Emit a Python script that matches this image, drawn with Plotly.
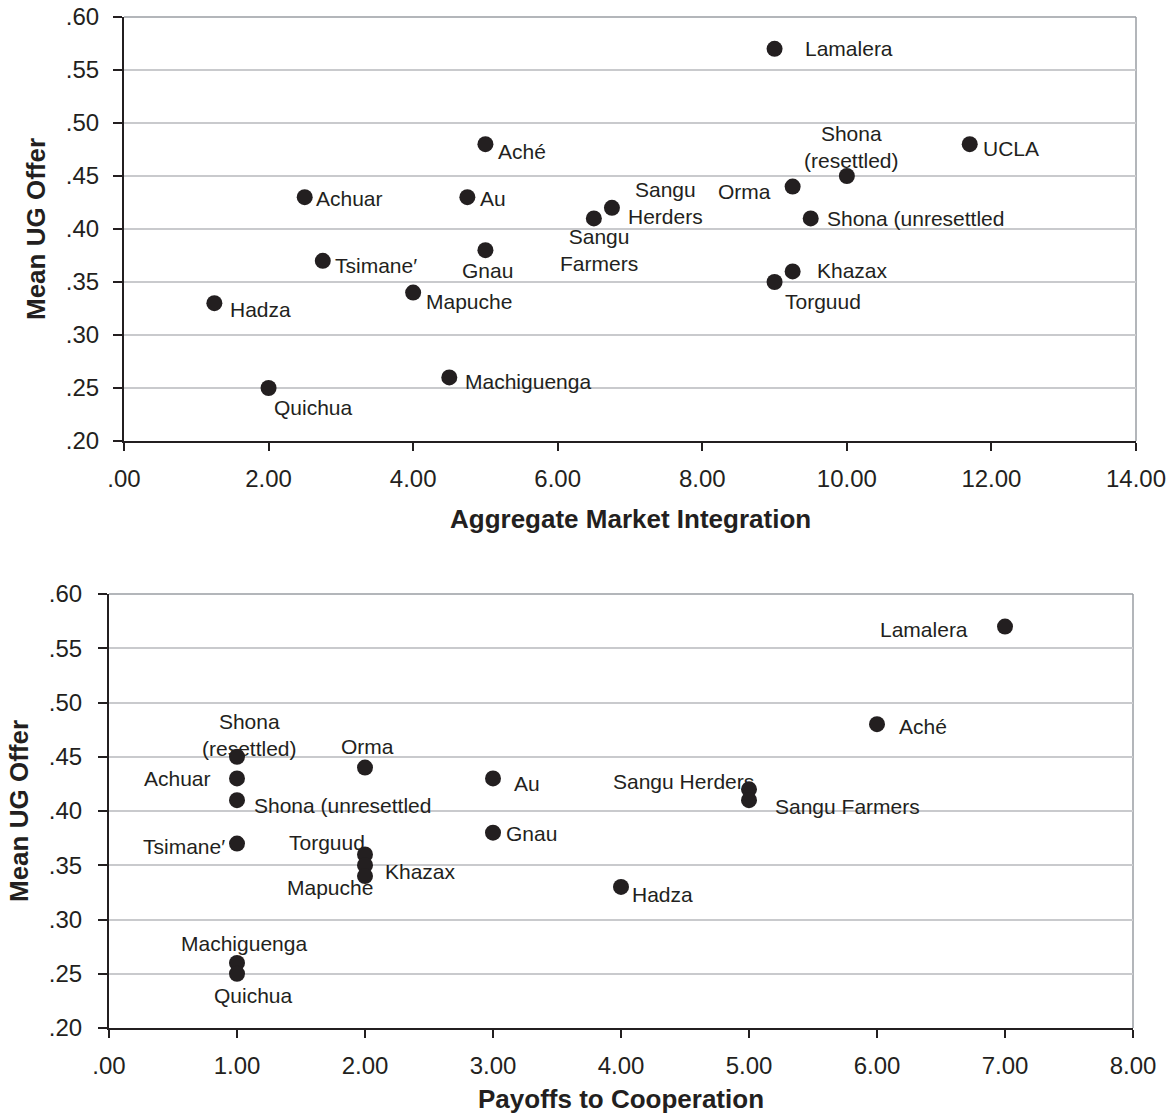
import plotly.graph_objects as go

# ---------------- data ----------------
groups_top = ["Lamalera", "Aché", "UCLA", "Shona<br>(resettled)", "Orma", "Achuar", "Au",
              "Sangu<br>Herders", "Sangu<br>Farmers", "Shona (unresettled", "Gnau", "Tsimane′",
              "Khazax", "Torguud", "Mapuche", "Hadza", "Machiguenga", "Quichua"]
market_integration = [9.0, 5.0, 11.7, 10.0, 9.25, 2.5, 4.75,
                      6.75, 6.5, 9.5, 5.0, 2.75,
                      9.25, 9.0, 4.0, 1.25, 4.5, 2.0]
offer_top = [0.57, 0.48, 0.48, 0.45, 0.44, 0.43, 0.43,
             0.42, 0.41, 0.41, 0.38, 0.37,
             0.36, 0.35, 0.34, 0.33, 0.26, 0.25]

groups_bottom = ["Lamalera", "Aché", "Shona<br>(resettled)", "Orma", "Achuar", "Au",
                 "Sangu Herders", "Sangu Farmers", "Shona (unresettled", "Gnau", "Tsimane′",
                 "Khazax", "Torguud", "Mapuche", "Hadza", "Machiguenga", "Quichua"]
payoffs_coop = [7, 6, 1, 2, 1, 3,
                5, 5, 1, 3, 1,
                2, 2, 2, 4, 1, 1]
offer_bottom = [0.57, 0.48, 0.45, 0.44, 0.43, 0.43,
                0.42, 0.41, 0.41, 0.38, 0.37,
                0.36, 0.35, 0.34, 0.33, 0.26, 0.25]

y_tickvals = [0.20, 0.25, 0.30, 0.35, 0.40, 0.45, 0.50, 0.55, 0.60]
y_ticktext = [".20", ".25", ".30", ".35", ".40", ".45", ".50", ".55", ".60"]
x_top_tickvals = [0, 2, 4, 6, 8, 10, 12, 14]
x_top_ticktext = [".00", "2.00", "4.00", "6.00", "8.00", "10.00", "12.00", "14.00"]
x_bot_tickvals = [0, 1, 2, 3, 4, 5, 6, 7, 8]
x_bot_ticktext = [".00", "1.00", "2.00", "3.00", "4.00", "5.00", "6.00", "7.00", "8.00"]

title_top_x = "Aggregate Market Integration"
title_bot_x = "Payoffs to Cooperation"
title_y = "Mean UG Offer"

# ---------------- label placement (style/position, not data) ----------------
# (xanchor, xshift, yshift)
place_top = {
    "Lamalera": ("left", 28, 0),
    "Aché": ("left", 11, -7),
    "UCLA": ("left", 11, -4),
    "Shona<br>(resettled)": ("center", 5, 29),
    "Orma": ("right", -20, -5),
    "Achuar": ("left", 9, -1),
    "Au": ("left", 11, -1),
    "Sangu<br>Herders": ("left", 14, 5),
    "Sangu<br>Farmers": ("center", 5, -32),
    "Shona (unresettled": ("left", 14, 0),
    "Gnau": ("center", 2, -20),
    "Tsimane′": ("left", 10, -5),
    "Khazax": ("left", 22, 1),
    "Torguud": ("left", 8, -20),
    "Mapuche": ("left", 11, -9),
    "Hadza": ("left", 14, -6),
    "Machiguenga": ("left", 14, -4),
    "Quichua": ("left", 3, -20),
}
place_bot = {
    "Lamalera": ("right", -35, -3),
    "Aché": ("left", 20, -2),
    "Shona<br>(resettled)": ("center", 12, 22),
    "Orma": ("center", 2, 21),
    "Achuar": ("right", -24, 0),
    "Au": ("left", 19, -5),
    "Sangu Herders": ("right", 7, 8),
    "Sangu Farmers": ("left", 24, -6),
    "Shona (unresettled": ("left", 15, -5),
    "Gnau": ("left", 11, -1),
    "Tsimane′": ("right", -10, -3),
    "Khazax": ("left", 18, -17),
    "Torguud": ("right", 2, 23),
    "Mapuche": ("right", 10, -11),
    "Hadza": ("left", 9, -8),
    "Machiguenga": ("center", 7, 19),
    "Quichua": ("center", 16, -22),
}

W, H = 1172, 1120
INK = "#231f20"
GRID = "#c9cacd"
BORDER = "#9a9ea3"
FONT = "Liberation Sans, Arial, sans-serif"

def px_x(p):
    return p / W

def px_y(p):
    return 1 - p / H

fig = go.Figure()

fig.add_trace(go.Scatter(
    x=market_integration, y=offer_top, mode="markers",
    marker=dict(size=16, color=INK), xaxis="x", yaxis="y",
    showlegend=False, hoverinfo="skip"))
fig.add_trace(go.Scatter(
    x=payoffs_coop, y=offer_bottom, mode="markers",
    marker=dict(size=16, color=INK), xaxis="x2", yaxis="y2",
    showlegend=False, hoverinfo="skip"))

annotations = []
for name, xv, yv in zip(groups_top, market_integration, offer_top):
    xa, xs, ys = place_top[name]
    annotations.append(dict(x=xv, y=yv, xref="x", yref="y", text=name,
                            showarrow=False, xanchor=xa, yanchor="middle",
                            xshift=xs, yshift=ys, align="center",
                            font=dict(size=21, color=INK, family=FONT)))
for name, xv, yv in zip(groups_bottom, payoffs_coop, offer_bottom):
    xa, xs, ys = place_bot[name]
    annotations.append(dict(x=xv, y=yv, xref="x2", yref="y2", text=name,
                            showarrow=False, xanchor=xa, yanchor="middle",
                            xshift=xs, yshift=ys, align="center",
                            font=dict(size=21, color=INK, family=FONT)))

title_font = dict(size=26, color=INK, family=FONT)
annotations += [
    dict(x=px_x(630), y=px_y(519), xref="paper", yref="paper", text="<b>%s</b>" % title_top_x,
         showarrow=False, xanchor="center", yanchor="middle", font=title_font),
    dict(x=px_x(621), y=px_y(1099), xref="paper", yref="paper", text="<b>%s</b>" % title_bot_x,
         showarrow=False, xanchor="center", yanchor="middle", font=title_font),
    dict(x=px_x(36), y=px_y(229), xref="paper", yref="paper", text="<b>%s</b>" % title_y,
         showarrow=False, xanchor="center", yanchor="middle", textangle=-90, font=title_font),
    dict(x=px_x(19), y=px_y(811), xref="paper", yref="paper", text="<b>%s</b>" % title_y,
         showarrow=False, xanchor="center", yanchor="middle", textangle=-90, font=title_font),
]

tick_font = dict(size=24, color=INK, family=FONT)
common_x = dict(showgrid=False, zeroline=False, showline=True, linecolor=INK, linewidth=2,
                ticks="outside", ticklen=8, tickwidth=1.5, tickcolor=INK, automargin=False,
                tickfont=tick_font, ticklabelstandoff=7, ticklabeloverflow="allow",
                fixedrange=True)
common_y = dict(showgrid=True, gridcolor=GRID, gridwidth=1.5, zeroline=False, showline=True,
                linecolor=INK, linewidth=2, ticks="outside", ticklen=9, tickwidth=1.5,
                tickcolor=INK, tickfont=tick_font, fixedrange=True, ticklabeloverflow="allow",
                automargin=False,
                range=[0.2, 0.6], tickmode="array", tickvals=y_tickvals, ticktext=y_ticktext)

fig.update_layout(
    width=W, height=H,
    margin=dict(l=0, r=0, t=0, b=0, pad=0),
    paper_bgcolor="white", plot_bgcolor="white",
    font=dict(family=FONT, color=INK),
    xaxis=dict(common_x, domain=[px_x(124), px_x(1136)], range=[0, 14], anchor="y",
               tickmode="array", tickvals=x_top_tickvals, ticktext=x_top_ticktext),
    yaxis=dict(common_y, domain=[px_y(441), px_y(17)], anchor="x", ticklabelstandoff=9),
    xaxis2=dict(common_x, domain=[px_x(109), px_x(1133)], range=[0, 8], anchor="y2",
                tickmode="array", tickvals=x_bot_tickvals, ticktext=x_bot_ticktext),
    yaxis2=dict(common_y, domain=[px_y(1028), px_y(594)], anchor="x2", ticklabelstandoff=11),
    annotations=annotations,
    shapes=[
        dict(type="line", xref="x domain", yref="y domain", x0=0, x1=1, y0=1, y1=1,
             line=dict(color=BORDER, width=1.5), layer="below"),
        dict(type="line", xref="x domain", yref="y domain", x0=1, x1=1, y0=0, y1=1,
             line=dict(color=BORDER, width=1.5), layer="below"),
        dict(type="line", xref="x2 domain", yref="y2 domain", x0=0, x1=1, y0=1, y1=1,
             line=dict(color=BORDER, width=1.5), layer="below"),
        dict(type="line", xref="x2 domain", yref="y2 domain", x0=1, x1=1, y0=0, y1=1,
             line=dict(color=BORDER, width=1.5), layer="below"),
    ],
)

fig.write_html("out.html", config={"displayModeBar": False},
               post_script="document.body.style.margin='0';document.body.style.overflow='hidden';")
